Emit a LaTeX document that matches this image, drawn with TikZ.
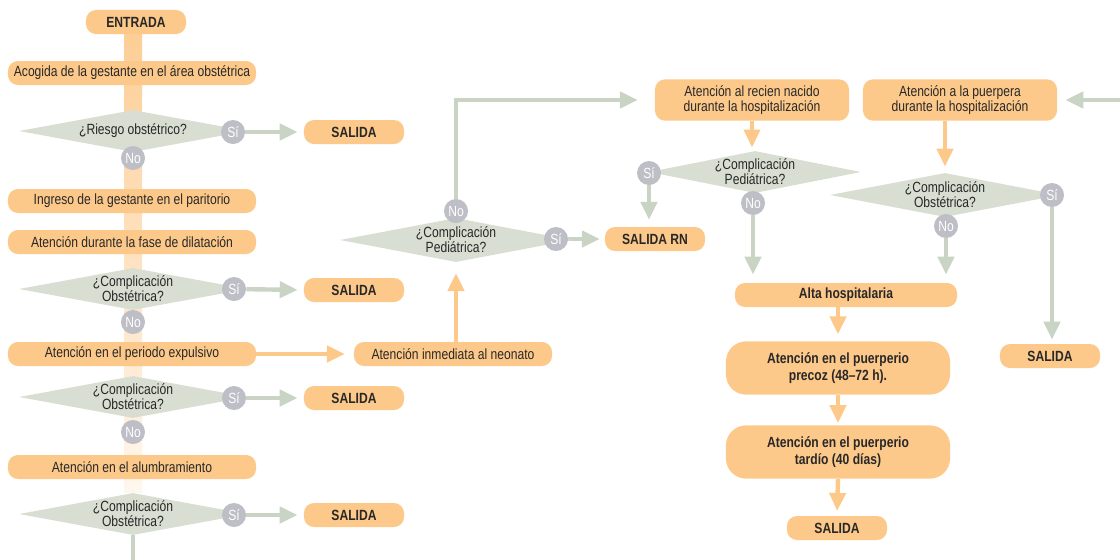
\documentclass[tikz,border=0pt]{standalone}
\usepackage{fontspec}
\setmainfont{Liberation Sans}[FakeStretch=0.82]
\definecolor{boxorange}{RGB}{253,201,138}
\definecolor{decgreen}{RGB}{216,222,209}
\definecolor{linegreen}{RGB}{202,212,196}
\definecolor{dotgray}{RGB}{190,190,198}
\definecolor{txtdark}{RGB}{40,40,40}
\usetikzlibrary{arrows.meta,positioning,shapes.geometric,calc,backgrounds}
\tikzset{
  stage/.style={fill=boxorange,rounded corners=0.25cm,minimum height=0.6cm,
                align=center,text=txtdark,inner sep=1pt},
  exitbox/.style={stage,minimum width=2.5cm,font=\bfseries},
  decision/.style={diamond,fill=decgreen,aspect=5,inner sep=0pt,
                   minimum width=5.7cm,minimum height=1.05cm,align=center,text=txtdark},
  answer/.style={circle,fill=dotgray,text=white,minimum size=0.6cm,inner sep=0pt},
  oarrow/.style={-{Triangle[length=0.45cm,width=0.4cm]},line width=0.11cm,draw=boxorange},
  garrow/.style={-{Triangle[length=0.45cm,width=0.4cm]},line width=0.11cm,draw=linegreen},
}
\begin{document}
\fontsize{10.5}{10.5}\selectfont
\begin{tikzpicture}[x=0.025cm,y=-0.025cm]
  \useasboundingbox (0,0) rectangle (1120,560);
  %% Parto: columna izquierda
  \node[exitbox] (entrada) at (136,22) {ENTRADA};
  \node[stage,minimum width=6.2cm] (acogida) at (132,73) {Acogida de la gestante en el área obstétrica};
  \node[decision] (riesgo) at (133,131) {¿Riesgo obstétrico?};
  \node[answer] (si1) at (233,132) {Sí};
  \node[answer] (no1) at (133,158) {No};
  \node[exitbox] (salida1) at (354,132) {SALIDA};
  \node[stage,minimum width=6.2cm] (ingreso) at (132,201) {Ingreso de la gestante en el paritorio};
  \node[stage,minimum width=6.2cm] (dilatacion) at (132,242) {Atención durante la fase de dilatación};
  \node[decision] (compl1) at (133,289) {¿Complicación\\Obstétrica?};
  \node[answer] (si2) at (234,289) {Sí};
  \node[answer] (no2) at (133,322) {No};
  \node[exitbox] (salida2) at (354,290) {SALIDA};
  \node[stage,minimum width=6.2cm] (expulsivo) at (132,354) {Atención en el periodo expulsivo};
  \node[decision] (compl2) at (133,397) {¿Complicación\\Obstétrica?};
  \node[answer] (si3) at (234,398) {Sí};
  \node[answer] (no3) at (133,432) {No};
  \node[exitbox] (salida3) at (354,398) {SALIDA};
  \node[stage,minimum width=6.2cm] (alumbramiento) at (132,467) {Atención en el alumbramiento};
  \node[decision] (compl3) at (133,514) {¿Complicación\\Obstétrica?};
  \node[answer] (si4) at (234,515) {Sí};
  \node[exitbox] (salida4) at (354,515) {SALIDA};
  \coordinate (fin) at (133,560);
  %% Neonato
  \node[stage,minimum width=4.95cm] (neonato) at (453,354) {Atención inmediata al neonato};
  \node[decision,minimum width=5.8cm,minimum height=1.1cm] (pedia1) at (456,240) {¿Complicación\\Pediátrica?};
  \node[answer] (nop1) at (456,211) {No};
  \node[answer] (sip1) at (556,239) {Sí};
  \node[exitbox] (salidarn) at (655,239) {SALIDA RN};
  %% Hospitalizacion
  \node[stage,minimum width=4.85cm,minimum height=1.03cm] (recien) at (752,100) {Atención al recien nacido\\durante la hospitalización};
  \node[stage,minimum width=4.85cm,minimum height=1.03cm] (puerpera) at (960,100) {Atención a la puerpera\\durante la hospitalización};
  \coordinate (entrada2) at (1120,100);
  \node[decision,minimum width=5.3cm] (pedia2) at (755,172) {¿Complicación\\Pediátrica?};
  \node[answer] (sip2) at (649,173) {Sí};
  \node[answer] (nop2) at (753,203) {No};
  \node[decision,minimum width=5.75cm,minimum height=1.1cm] (obst) at (945,195) {¿Complicación\\Obstétrica?};
  \node[answer] (sio) at (1052,195) {Sí};
  \node[answer] (noo) at (946,226) {No};
  \node[exitbox] (salida6) at (1050,356) {SALIDA};
  %% Alta y puerperio
  \node[stage,minimum width=5.55cm,font=\bfseries] (alta) at (846,295) {Alta hospitalaria};
  \node[stage,minimum width=5.6cm,minimum height=1.33cm,rounded corners=0.5cm,font=\bfseries]
        (precoz) at (838,368) {Atención en el puerperio\\[2pt]precoz (48--72 h).};
  \node[stage,minimum width=5.6cm,minimum height=1.33cm,rounded corners=0.5cm,font=\bfseries]
        (tardio) at (838,452) {Atención en el puerperio\\[2pt]tardío (40 días)};
  \node[exitbox] (salida5) at (837,528) {SALIDA};
  %% Conectores
  \begin{scope}[on background layer]
    \shade[top color=boxorange!90!white,bottom color=boxorange!15!white]
      ($(no1|-entrada.south)+(-9,0)$) rectangle ($(no1|-compl3.north)+(9,0)$);
    \draw[line width=0.11cm,linegreen] (no1|-compl3.south) -- (fin);
    \draw[garrow,shorten >=0.15cm] (si1) -- (salida1.west);
    \draw[garrow,shorten >=0.15cm] (si2) -- (salida2.west);
    \draw[garrow,shorten >=0.15cm] (si3) -- (salida3.west);
    \draw[garrow,shorten >=0.15cm] (si4) -- (salida4.west);
    \draw[oarrow,shorten >=0.22cm] (expulsivo.east) -- (neonato.west);
    \draw[oarrow,shorten >=0.27cm] (pedia1.south|-neonato.north) -- (pedia1.south);
    \draw[garrow,shorten >=0.12cm] (sip1) -- (salidarn.west);
    \draw[garrow,shorten >=0.42cm] (nop1) |- (recien.west);
    \draw[oarrow,shorten >=0.08cm] (recien.south) -- (recien.south|-pedia2.north);
    \draw[oarrow,shorten >=0.15cm] (obst.north|-puerpera.south) -- (obst.north);
    \draw[garrow,shorten >=0.2cm] (entrada2) -- (puerpera.east);
    \draw[garrow,shorten >=0.17cm] (sip2) -- (sip2|-salidarn.north);
    \draw[garrow,shorten >=0.2cm] (nop2) -- (nop2|-alta.north);
    \draw[garrow,shorten >=0.2cm] (noo) -- (noo|-alta.north);
    \draw[garrow,shorten >=0.1cm] (sio) -- (sio|-salida6.north);
    \draw[oarrow,shorten >=0.17cm] (precoz.north|-alta.south) -- (precoz.north);
    \draw[oarrow,shorten >=0.05cm] (precoz.south) -- (tardio.north);
    \draw[oarrow,shorten >=0.12cm] (tardio.south) -- (salida5.north);
  \end{scope}
\end{tikzpicture}
\end{document}
